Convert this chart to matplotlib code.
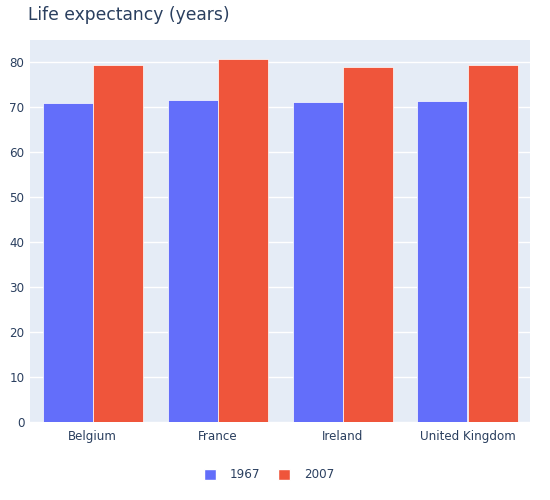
import numpy as np
import matplotlib
matplotlib.use("Agg")
import matplotlib.pyplot as plt
from matplotlib.patches import Patch

countries = ["Belgium", "France", "Ireland", "United Kingdom"]
life_1967 = [70.94, 71.55, 71.08, 71.36]
life_2007 = [79.441, 80.657, 78.885, 79.425]
years = ["1967", "2007"]

txt = "#2a3f5f"
plt.rcParams["font.family"] = "DejaVu Sans"

fig = plt.figure(figsize=(5.5, 5), dpi=100)
ax = fig.add_axes([30/550, 1 - 422/500, 500/550, 382/500])
ax.set_facecolor("#E5ECF6")

x = np.arange(len(countries))
w = 0.4
ax.bar(x - w/2, life_1967, w, color="#636efa", edgecolor="white", linewidth=0.5, zorder=3)
ax.bar(x + w/2, life_2007, w, color="#EF553B", edgecolor="white", linewidth=0.5, zorder=3)

ax.set_xlim(-0.5, 3.5)
ax.set_ylim(0, 84.9)
ax.set_yticks(range(0, 81, 10))
ax.set_xticks(x)
ax.set_xticklabels(countries)
ax.grid(axis="y", color="white", linewidth=1, zorder=0)
for s in ax.spines.values():
    s.set_visible(False)
ax.tick_params(length=0, labelsize=8.6, colors=txt, pad=6)
ax.tick_params(axis="y", pad=4)

fig.text(28/550, 1 - 15/500, "Life expectancy (years)", fontsize=12.3, color=txt, va="center", ha="left")

handles = [Patch(facecolor="#636efa", edgecolor="white"), Patch(facecolor="#EF553B", edgecolor="white")]
fig.legend(handles, years, loc="center", bbox_to_anchor=(269/550, 1 - 475/500), ncol=2, frameon=False,
           fontsize=8.6, labelcolor=txt, handlelength=1.0, handleheight=1.0, columnspacing=1.45, handletextpad=1.2)

fig.savefig("out.png", dpi=100)
